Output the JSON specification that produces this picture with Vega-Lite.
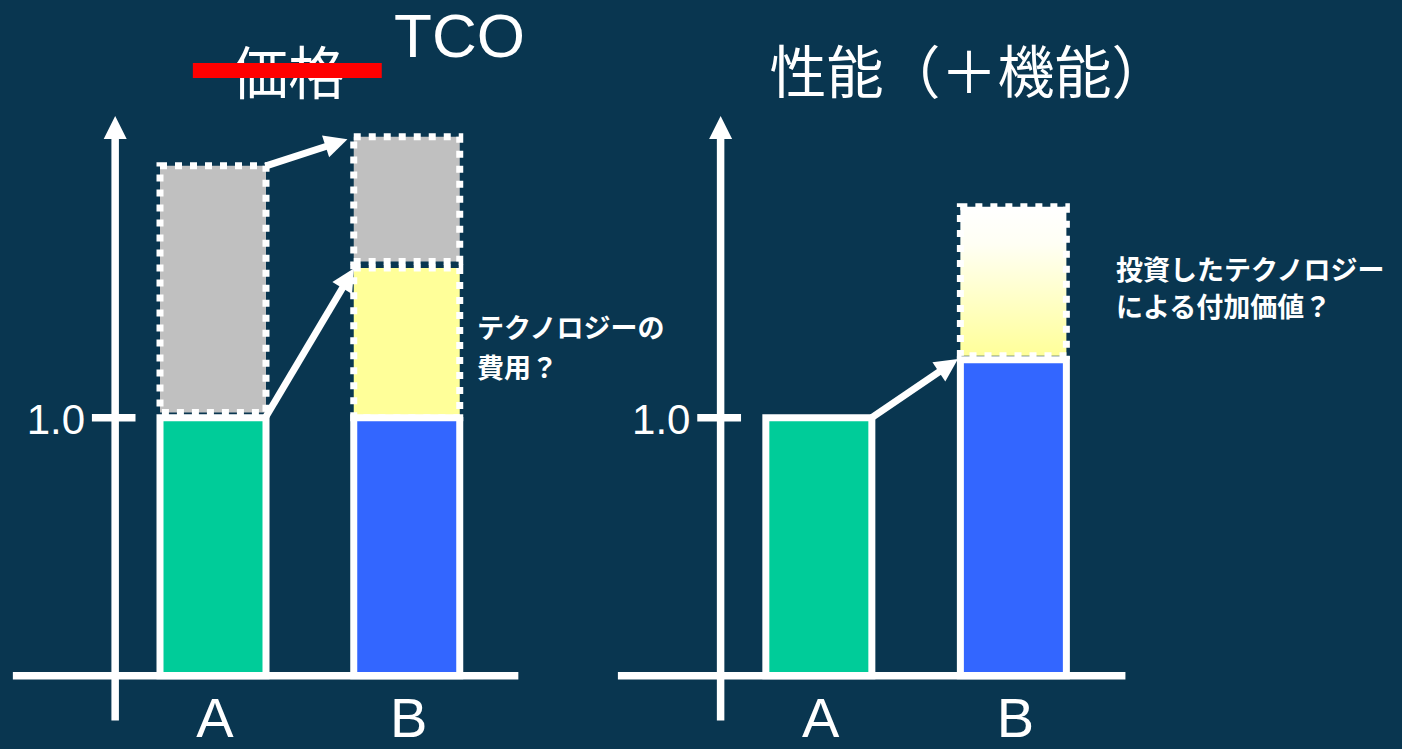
{
  "$schema": "https://vega.github.io/schema/vega-lite/v6.json",
  "background": "#093650",
  "padding": 0,
  "spacing": 0,
  "bounds": "flush",
  "config": {"view": {"stroke": null}},
  "datasets": {
    "segments": [
      {"panel": "price", "item": "A", "x": 1, "part": "other", "y": 1.02, "y2": 1.977},
      {"panel": "price", "item": "B", "x": 2, "part": "tech", "y": 1.0, "y2": 1.58},
      {"panel": "price", "item": "B", "x": 2, "part": "other", "y": 1.605, "y2": 2.089},
      {"panel": "price", "item": "A", "x": 1, "part": "A", "y": 0, "y2": 1.0},
      {"panel": "price", "item": "B", "x": 2, "part": "B", "y": 0, "y2": 1.0},
      {"panel": "perf", "item": "B", "x": 2, "part": "added", "y": 1.24, "y2": 1.818},
      {"panel": "perf", "item": "A", "x": 1, "part": "A", "y": 0, "y2": 1.0},
      {"panel": "perf", "item": "B", "x": 2, "part": "B", "y": 0, "y2": 1.225}
    ],
    "frame": [
      {"x": 0.495, "y": -0.174, "x2": 0.495, "y2": 2.1},
      {"x": -0.033, "y": 0, "x2": 2.576, "y2": 0},
      {"x": 0.375, "y": 1, "x2": 0.6, "y2": 1}
    ],
    "arrows": [
      {"panel": "price", "id": "cost", "x": 1.27, "y": 1.975, "x2": 1.622, "y2": 2.061},
      {"panel": "price", "id": "tech", "x": 1.27, "y": 1.0, "x2": 1.689, "y2": 1.529},
      {"panel": "perf", "id": "value", "x": 1.272, "y": 1.0, "x2": 1.652, "y2": 1.195}
    ],
    "heads": [
      {"panel": "both", "id": "axis", "x": 0.495, "y": 2.169},
      {"panel": "price", "id": "cost", "x": 1.694, "y": 2.079},
      {"panel": "price", "id": "tech", "x": 1.728, "y": 1.579},
      {"panel": "perf", "id": "value", "x": 1.715, "y": 1.2275}
    ],
    "ticklabels": [{"text": "1.0", "x": 0.34, "y": 1.0}],
    "cats": [
      {"text": "A", "x": 1.01, "y": -0.2376},
      {"text": "B", "x": 2.01, "y": -0.2376}
    ],
    "titles": [
      {"panel": "price", "text": "価格", "x": 1.388, "y": 2.32},
      {"panel": "perf", "text": "性能（＋機能）", "x": 1.772, "y": 2.324}
    ],
    "strike": [{"panel": "price", "x": 0.896, "x2": 1.871, "y": 2.3457, "y2": 2.3457}],
    "tco": [{"panel": "price", "text": "TCO", "x": 2.272, "y": 2.398}],
    "notes": [
      {"panel": "price", "text": "テクノロジーの", "x": 2.363, "y": 1.339},
      {"panel": "price", "text": "費用？", "x": 2.363, "y": 1.184},
      {"panel": "perf", "text": "投資したテクノロジー", "x": 2.528, "y": 1.564},
      {"panel": "perf", "text": "による付加価値？", "x": 2.528, "y": 1.4206}
    ]
  },
  "hconcat": [
    {
      "width": 605,
      "height": 749,
      "encoding": {
        "x": {"field": "x", "type": "quantitative", "scale": {"domain": [-0.0736, 2.99746], "nice": false, "zero": false}, "axis": null},
        "y": {"field": "y", "type": "quantitative", "scale": {"domain": [-0.28411, 2.61899], "nice": false, "zero": false}, "axis": null}
      },
      "layer": [
        {
          "data": {"name": "segments"},
          "transform": [{"filter": "datum.panel === 'price' && (datum.part === 'other' || datum.part === 'tech')"}],
          "mark": {"type": "bar", "width": 106, "stroke": "white", "strokeWidth": 7, "strokeDash": [7, 8], "opacity": 1},
          "encoding": {
            "y2": {"field": "y2"},
            "color": {"field": "part", "type": "nominal", "scale": {"domain": ["A", "B", "other", "tech"], "range": ["#00CC99", "#3366FF", "#C0C0C0", "#FFFF99"]}, "legend": null}
          }
        },
        {
          "data": {"name": "segments"},
          "transform": [{"filter": "datum.panel === 'price' && (datum.part === 'A' || datum.part === 'B')"}],
          "mark": {"type": "bar", "width": 106, "stroke": "white", "strokeWidth": 7, "opacity": 1},
          "encoding": {
            "y2": {"field": "y2"},
            "color": {"field": "part", "type": "nominal", "scale": {"domain": ["A", "B", "other", "tech"], "range": ["#00CC99", "#3366FF", "#C0C0C0", "#FFFF99"]}, "legend": null}
          }
        },
        {
          "data": {"name": "frame"},
          "mark": {"type": "rule", "color": "white", "strokeWidth": 7.5},
          "encoding": {"x2": {"field": "x2"}, "y2": {"field": "y2"}}
        },
        {
          "data": {"name": "arrows"},
          "transform": [{"filter": "datum.panel === 'price'"}],
          "mark": {"type": "rule", "color": "white", "strokeWidth": 7},
          "encoding": {"x2": {"field": "x2"}, "y2": {"field": "y2"}}
        },
        {
          "data": {"name": "heads"},
          "transform": [{"filter": "datum.id === 'axis'"}],
          "mark": {"type": "point", "shape": "M0,0L0.5,1L-0.5,1Z", "size": 2116, "filled": true, "color": "white", "opacity": 1, "strokeWidth": 0, "angle": 0}
        },
        {
          "data": {"name": "heads"},
          "transform": [{"filter": "datum.id === 'cost'"}],
          "mark": {"type": "point", "shape": "M0,0L0.5,1L-0.5,1Z", "size": 2116, "filled": true, "color": "white", "opacity": 1, "strokeWidth": 0, "angle": 72}
        },
        {
          "data": {"name": "heads"},
          "transform": [{"filter": "datum.id === 'tech'"}],
          "mark": {"type": "point", "shape": "M0,0L0.5,1L-0.5,1Z", "size": 2116, "filled": true, "color": "white", "opacity": 1, "strokeWidth": 0, "angle": 31}
        },
        {
          "data": {"name": "ticklabels"},
          "mark": {"type": "text", "font": "Liberation Sans", "fontSize": 42, "color": "white", "align": "right", "baseline": "middle", "dy": 3},
          "encoding": {"text": {"field": "text"}}
        },
        {
          "data": {"name": "cats"},
          "mark": {"type": "text", "font": "Liberation Sans", "fontSize": 56, "color": "white", "align": "center", "baseline": "alphabetic"},
          "encoding": {"text": {"field": "text"}}
        },
        {
          "data": {"name": "titles"},
          "transform": [{"filter": "datum.panel === 'price'"}],
          "mark": {"type": "text", "font": "Noto Sans CJK JP", "fontSize": 57, "color": "white", "align": "center", "baseline": "middle"},
          "encoding": {"text": {"field": "text"}}
        },
        {
          "data": {"name": "strike"},
          "mark": {"type": "rule", "color": "#FF0000", "strokeWidth": 15},
          "encoding": {"x2": {"field": "x2"}, "y2": {"field": "y2"}}
        },
        {
          "data": {"name": "tco"},
          "mark": {"type": "text", "font": "Liberation Sans", "fontSize": 62, "color": "white", "align": "center", "baseline": "alphabetic"},
          "encoding": {"text": {"field": "text"}}
        },
        {
          "data": {"name": "notes"},
          "transform": [{"filter": "datum.panel === 'price'"}],
          "mark": {"type": "text", "font": "Noto Sans CJK JP", "fontSize": 27, "fontWeight": "bold", "color": "white", "align": "left", "baseline": "middle"},
          "encoding": {"text": {"field": "text"}}
        }
      ]
    },
    {
      "width": 797,
      "height": 749,
      "encoding": {
        "x": {"field": "x", "type": "quantitative", "scale": {"domain": [-0.0736, 3.97208], "nice": false, "zero": false}, "axis": null},
        "y": {"field": "y", "type": "quantitative", "scale": {"domain": [-0.28411, 2.61899], "nice": false, "zero": false}, "axis": null}
      },
      "layer": [
        {
          "data": {"name": "segments"},
          "transform": [{"filter": "datum.panel === 'perf' && datum.part === 'added'"}],
          "mark": {
            "type": "bar", "width": 106, "stroke": "white", "strokeWidth": 7, "strokeDash": [7, 8], "opacity": 1,
            "fill": {"gradient": "linear", "x1": 0, "y1": 0, "x2": 0, "y2": 1, "stops": [{"offset": 0, "color": "#FFFFFF"}, {"offset": 0.25, "color": "#FFFFF4"}, {"offset": 1, "color": "#FFFF99"}]}
          },
          "encoding": {"y2": {"field": "y2"}}
        },
        {
          "data": {"name": "segments"},
          "transform": [{"filter": "datum.panel === 'perf' && (datum.part === 'A' || datum.part === 'B')"}],
          "mark": {"type": "bar", "width": 106, "stroke": "white", "strokeWidth": 7, "opacity": 1},
          "encoding": {
            "y2": {"field": "y2"},
            "color": {"field": "part", "type": "nominal", "scale": {"domain": ["A", "B", "other", "tech"], "range": ["#00CC99", "#3366FF", "#C0C0C0", "#FFFF99"]}, "legend": null}
          }
        },
        {
          "data": {"name": "frame"},
          "mark": {"type": "rule", "color": "white", "strokeWidth": 7.5},
          "encoding": {"x2": {"field": "x2"}, "y2": {"field": "y2"}}
        },
        {
          "data": {"name": "arrows"},
          "transform": [{"filter": "datum.panel === 'perf'"}],
          "mark": {"type": "rule", "color": "white", "strokeWidth": 7},
          "encoding": {"x2": {"field": "x2"}, "y2": {"field": "y2"}}
        },
        {
          "data": {"name": "heads"},
          "transform": [{"filter": "datum.id === 'axis'"}],
          "mark": {"type": "point", "shape": "M0,0L0.5,1L-0.5,1Z", "size": 2116, "filled": true, "color": "white", "opacity": 1, "strokeWidth": 0, "angle": 0}
        },
        {
          "data": {"name": "heads"},
          "transform": [{"filter": "datum.id === 'value'"}],
          "mark": {"type": "point", "shape": "M0,0L0.5,1L-0.5,1Z", "size": 2116, "filled": true, "color": "white", "opacity": 1, "strokeWidth": 0, "angle": 56}
        },
        {
          "data": {"name": "ticklabels"},
          "mark": {"type": "text", "font": "Liberation Sans", "fontSize": 42, "color": "white", "align": "right", "baseline": "middle", "dy": 3},
          "encoding": {"text": {"field": "text"}}
        },
        {
          "data": {"name": "cats"},
          "mark": {"type": "text", "font": "Liberation Sans", "fontSize": 56, "color": "white", "align": "center", "baseline": "alphabetic"},
          "encoding": {"text": {"field": "text"}}
        },
        {
          "data": {"name": "titles"},
          "transform": [{"filter": "datum.panel === 'perf'"}],
          "mark": {"type": "text", "font": "Noto Sans CJK JP", "fontSize": 57, "color": "white", "align": "center", "baseline": "middle"},
          "encoding": {"text": {"field": "text"}}
        },
        {
          "data": {"name": "notes"},
          "transform": [{"filter": "datum.panel === 'perf'"}],
          "mark": {"type": "text", "font": "Noto Sans CJK JP", "fontSize": 27, "fontWeight": "bold", "color": "white", "align": "left", "baseline": "middle"},
          "encoding": {"text": {"field": "text"}}
        }
      ]
    }
  ],
  "resolve": {"scale": {"x": "independent", "y": "independent", "color": "independent"}}
}
